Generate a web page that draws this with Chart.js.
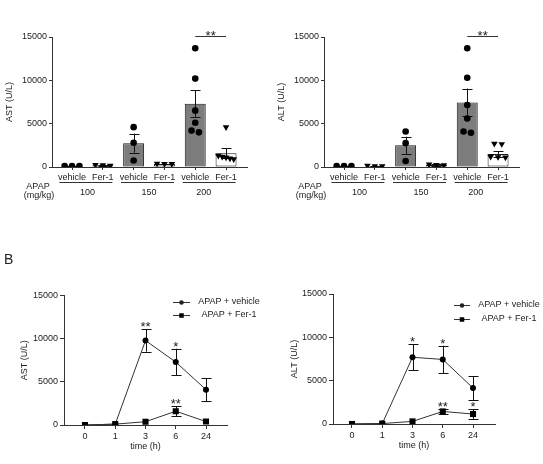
<!DOCTYPE html>
<html><head><meta charset="utf-8">
<script src="https://cdn.jsdelivr.net/npm/chart.js@4.4.0/dist/chart.umd.min.js"></script>
<style>
html,body{margin:0;padding:0;background:#fff;}
#wrap{position:relative;width:543px;height:464px;overflow:hidden;background:#fff;}
canvas{position:absolute;}
#lblB{position:absolute;left:4px;top:251px;font:14px "Liberation Sans",Arial,sans-serif;color:#222;line-height:16px;}
</style></head><body>
<div id="wrap">
<canvas id="c1" width="272" height="230" style="left:0;top:0"></canvas>
<canvas id="c2" width="271" height="230" style="left:272px;top:0"></canvas>
<canvas id="c3" width="272" height="234" style="left:0;top:230px"></canvas>
<canvas id="c4" width="271" height="234" style="left:272px;top:230px"></canvas>
<div id="lblB">B</div>
</div>
<script>
// ---------- data: panel A ----------
const treatments = ['vehicle','Fer-1','vehicle','Fer-1','vehicle','Fer-1'];
const doses = ['100','150','200'];
const doseTitle = ['APAP','(mg/kg)'];
const astMean = [100, 200, 2750, 350, 7300, 1600];
const astSem  = [30, 50, 1100, 40, 1550, 600];
const astPoints = [
  [100, 120, 100],
  [200, 250, 150],
  [4600, 2800, 750],
  [350, 400, 350],
  [13700, 10200, 6500, 5100, 4200, 4000],
  [4600, 1300, 1000, 900, 1100, 1200]
];
const altMean = [100, 100, 2500, 250, 7450, 1500];
const altSem  = [20, 30, 1000, 80, 1600, 300];
const altPoints = [
  [100, 100, 100],
  [100, 150, 100],
  [4100, 2750, 700],
  [250, 200, 300],
  [13700, 10300, 7150, 5600, 3950, 4100],
  [2700, 2650, 1200, 1100, 1150]
];
const astSig = {from: 4, to: 5, label: '**', value: 15100};
const altSig = {from: 4, to: 5, label: '**', value: 15100};

// ---------- data: panel B ----------
const times = ['0','1','3','6','24'];
const seriesNames = ['APAP + vehicle', 'APAP + Fer-1'];
const astVehMean = [0, 100, 9800, 7300, 4100];
const astVehSem  = [0, 0, 1300, 1550, 1350];
const astFerMean = [0, 100, 380, 1600, 400];
const astFerSem  = [0, 0, 0, 580, 0];
const astVehStars = ['', '', '**', '*', ''];
const astFerStars = ['', '', '', '**', ''];
const altVehMean = [0, 50, 7700, 7450, 4150];
const altVehSem  = [0, 0, 1480, 1580, 1380];
const altFerMean = [0, 50, 300, 1450, 1150];
const altFerSem  = [0, 0, 0, 250, 550];
const altVehStars = ['', '', '*', '*', ''];
const altFerStars = ['', '', '', '**', '*'];

// ---------- styling ----------
const FONT = '"Liberation Sans", Arial, sans-serif';
const TXT = '#222';
const AX = '#333';
Chart.defaults.font.family = FONT;
Chart.defaults.font.size = 9;
Chart.defaults.color = TXT;
Chart.defaults.animation = false;

function spread(vals) {
  const idx = vals.map((v, i) => i).sort((a, b) => vals[b] - vals[a]);
  const off = new Array(vals.length).fill(0);
  let cl = [idx[0]];
  const flush = () => {
    const k = cl.length;
    const step = k > 1 ? Math.min(0.24, 0.5 / (k - 1)) : 0;
    cl.forEach((j, n) => { off[j] = (n - (k - 1) / 2) * step; });
  };
  for (let n = 1; n < idx.length; n++) {
    if (vals[cl[cl.length - 1]] - vals[idx[n]] < 700) cl.push(idx[n]);
    else { flush(); cl = [idx[n]]; }
  }
  flush();
  return off;
}

function axisBase(tl, pad) {
  return {
    grid: {display: true, drawOnChartArea: false, drawTicks: true, tickLength: tl, tickColor: AX, tickWidth: 1, offset: false},
    border: {display: true, color: AX, width: 1},
    ticks: {padding: pad, color: TXT, font: {size: 9}}
  };
}

function makeScales(lay, xLabels, yTitle, xTitle, tl, pad) {
  const x = axisBase(tl, pad);
  Object.assign(x, {
    type: 'linear', min: lay.xmin, max: lay.xmax, offset: false,
    afterBuildTicks: s => { s.ticks = xLabels.map((_, i) => ({value: i})); },
    afterFit: s => { s.height = lay.xh; s.paddingLeft = 0; s.paddingRight = 0; },
    title: xTitle ? {display: true, text: xTitle, color: TXT, font: {size: 9}, padding: {top: 4, bottom: 4}} : {display: false}
  });
  Object.assign(x.ticks, {autoSkip: false, maxRotation: 0, minRotation: 0, callback: v => (xLabels[v] !== undefined ? xLabels[v] : '')});
  const y = axisBase(tl, pad);
  Object.assign(y, {
    type: 'linear', min: 0, max: 15000,
    afterFit: s => { s.width = lay.L - lay.pl; s.paddingTop = 0; s.paddingBottom = 0; },
    title: {display: true, text: yTitle, color: TXT, font: {size: 9}, padding: {top: 4, bottom: 4}}
  });
  Object.assign(y.ticks, {stepSize: 5000, callback: v => String(v)});
  return {x, y};
}

function layoutPad(lay) {
  return {padding: {left: lay.pl, top: lay.T, right: lay.W - lay.R, bottom: lay.pb}};
}

function drawErr(ctx, xs, ys, x, mean, sem, cap) {
  if (!sem) return;
  const top = ys.getPixelForValue(mean + sem);
  const bot = ys.getPixelForValue(Math.max(0, mean - sem));
  const px = Math.round(x) + 0.5;
  ctx.beginPath();
  ctx.moveTo(px, bot); ctx.lineTo(px, top);
  ctx.moveTo(px - cap, Math.round(top) + 0.5); ctx.lineTo(px + cap, Math.round(top) + 0.5);
  ctx.moveTo(px - cap, Math.round(bot) + 0.5); ctx.lineTo(px + cap, Math.round(bot) + 0.5);
  ctx.stroke();
}

// ---------- panel A: bar charts ----------
function barChart(id, lay, yTitle, means, sems, pts, sig) {
  const veh = [], fer = [];
  pts.forEach((arr, i) => {
    const off = spread(arr);
    arr.forEach((v, j) => (treatments[i] === 'vehicle' ? veh : fer).push({x: i + off[j], y: v}));
  });
  const bars = means.map((m, i) => ({x: i, y: m}));
  const deco = {
    id: 'deco' + id,
    afterDatasetDraw(chart, args) {
      if (args.index !== 2) return;
      const {ctx, scales: {x: xs, y: ys}} = chart;
      ctx.save();
      ctx.strokeStyle = '#111'; ctx.lineWidth = 1;
      means.forEach((m, i) => drawErr(ctx, xs, ys, xs.getPixelForValue(i), m, sems[i], 5));
      ctx.restore();
    },
    afterDraw(chart) {
      const {ctx, chartArea, scales: {x: xs, y: ys}} = chart;
      ctx.save();
      ctx.strokeStyle = AX; ctx.fillStyle = TXT; ctx.lineWidth = 1;
      // significance bar
      const x1 = xs.getPixelForValue(sig.from), x2 = xs.getPixelForValue(sig.to);
      const ys1 = Math.round(ys.getPixelForValue(sig.value)) + 0.5;
      ctx.beginPath(); ctx.moveTo(x1, ys1); ctx.lineTo(x2, ys1); ctx.stroke();
      ctx.font = '13px ' + FONT; ctx.textAlign = 'center'; ctx.textBaseline = 'alphabetic';
      ctx.fillText(sig.label, (x1 + x2) / 2, ys1 + 3);
      // dose groups
      ctx.font = '9px ' + FONT; ctx.textBaseline = 'middle';
      const ly = Math.round(chartArea.bottom + 15) + 0.5;
      doses.forEach((d, g) => {
        const p0 = xs.getPixelForValue(2 * g), p1 = xs.getPixelForValue(2 * g + 1);
        const s = p1 - p0;
        ctx.beginPath(); ctx.moveTo(p0 - 0.41 * s, ly); ctx.lineTo(p1 + 0.31 * s, ly); ctx.stroke();
        ctx.fillText(d, (p0 + p1) / 2 - (g === 2 ? 7 : 0), chartArea.bottom + 26);
      });
      ctx.fillText(doseTitle[0], 38, chartArea.bottom + 20);
      ctx.fillText(doseTitle[1], 39, chartArea.bottom + 29);
      ctx.restore();
    }
  };
  return new Chart(document.getElementById(id), {
    type: 'bar',
    data: {datasets: [
      {type: 'scatter', data: veh, pointStyle: 'circle', pointRadius: 3.3, backgroundColor: '#000', borderColor: '#000', borderWidth: 0},
      {type: 'scatter', data: fer, pointStyle: 'triangle', rotation: 180, pointRadius: 3.8, backgroundColor: '#000', borderColor: '#000', borderWidth: 0},
      {type: 'bar', data: bars, backgroundColor: treatments.map(t => t === 'vehicle' ? '#7d7d7d' : '#ffffff'),
       borderColor: '#1a1a1a', borderWidth: 1, borderSkipped: false, barPercentage: 0.68, categoryPercentage: 1}
    ]},
    options: {
      responsive: false, animation: false, events: [],
      layout: layoutPad(lay),
      plugins: {legend: {display: false}, tooltip: {enabled: false}},
      scales: makeScales(lay, treatments, yTitle, null, 3, 2)
    },
    plugins: [deco]
  });
}

// ---------- panel B: line charts ----------
function lineChart(id, lay, yTitle, vm, vs, fm, fs, vStars, fStars, leg) {
  const deco = {
    id: 'ldeco' + id,
    beforeDatasetsDraw(chart) {
      const {ctx, scales: {x: xs, y: ys}} = chart;
      ctx.save(); ctx.strokeStyle = '#111'; ctx.lineWidth = 1;
      vm.forEach((m, i) => drawErr(ctx, xs, ys, xs.getPixelForValue(i), m, vs[i], 5));
      fm.forEach((m, i) => drawErr(ctx, xs, ys, xs.getPixelForValue(i), m, fs[i], 5));
      ctx.restore();
    },
    afterDraw(chart) {
      const {ctx, scales: {x: xs, y: ys}} = chart;
      ctx.save();
      ctx.fillStyle = TXT; ctx.font = '13px ' + FONT; ctx.textAlign = 'center'; ctx.textBaseline = 'alphabetic';
      const stars = (means, sems, labels) => labels.forEach((s, i) => {
        if (!s) return;
        ctx.fillText(s, xs.getPixelForValue(i), ys.getPixelForValue(means[i] + sems[i]) + 2);
      });
      stars(vm, vs, vStars); stars(fm, fs, fStars);
      // legend
      ctx.font = '9px ' + FONT; ctx.textBaseline = 'middle';
      chart.data.datasets.forEach((ds, k) => {
        const y = leg.rows[k];
        ctx.strokeStyle = '#333'; ctx.lineWidth = 1;
        ctx.beginPath(); ctx.moveTo(leg.x0, Math.round(y) + 0.5); ctx.lineTo(leg.x0 + leg.len, Math.round(y) + 0.5); ctx.stroke();
        Chart.helpers.drawPoint(ctx, {pointStyle: ds.pointStyle, radius: ds.pointStyle === 'rect' ? 3.2 : 2.3, borderWidth: 0}, leg.x0 + leg.len / 2, Math.round(y) + 0.5);
        ctx.fillStyle = TXT;
        ctx.fillText(ds.label, leg.tx, y);
        ctx.fillStyle = '#000';
      });
      ctx.restore();
    }
  };
  return new Chart(document.getElementById(id), {
    type: 'line',
    data: {datasets: [
      {label: seriesNames[0], data: vm.map((m, i) => ({x: i, y: m})), borderColor: '#333', borderWidth: 1,
       pointStyle: 'circle', pointRadius: 3, backgroundColor: '#000', pointBorderWidth: 0, tension: 0},
      {label: seriesNames[1], data: fm.map((m, i) => ({x: i, y: m})), borderColor: '#333', borderWidth: 1,
       pointStyle: 'rect', pointRadius: 4.3, backgroundColor: '#000', pointBorderWidth: 0, tension: 0}
    ]},
    options: {
      responsive: false, animation: false, events: [],
      layout: layoutPad(lay),
      plugins: {legend: {display: false}, tooltip: {enabled: false}},
      scales: makeScales(lay, times, yTitle, 'time (h)', 4, 2)
    },
    plugins: [deco]
  });
}

barChart('c1', {W: 272, H: 230, L: 52, T: 37, R: 247, pl: 0, xh: 63, pb: 0, xmin: -0.65, xmax: 5.68}, 'AST (U/L)', astMean, astSem, astPoints, astSig);
barChart('c2', {W: 271, H: 230, L: 52, T: 37, R: 247, pl: 0, xh: 63, pb: 0, xmin: -0.65, xmax: 5.68}, 'ALT (U/L)', altMean, altSem, altPoints, altSig);
lineChart('c3', {W: 272, H: 234, L: 64, T: 65.7, R: 227, pl: 15.6, xh: 31.4, pb: 7.6, xmin: -0.694, xmax: 4.694}, 'AST (U/L)',
  astVehMean, astVehSem, astFerMean, astFerSem, astVehStars, astFerStars, {x0: 173, len: 17, tx: 229, rows: [72, 85]});
lineChart('c4', {W: 271, H: 234, L: 61, T: 64, R: 223, pl: 13.6, xh: 31.4, pb: 8.6, xmin: -0.628, xmax: 4.727}, 'ALT (U/L)',
  altVehMean, altVehSem, altFerMean, altFerSem, altVehStars, altFerStars, {x0: 182, len: 16, tx: 237, rows: [75, 89]});
</script>
</body></html>
